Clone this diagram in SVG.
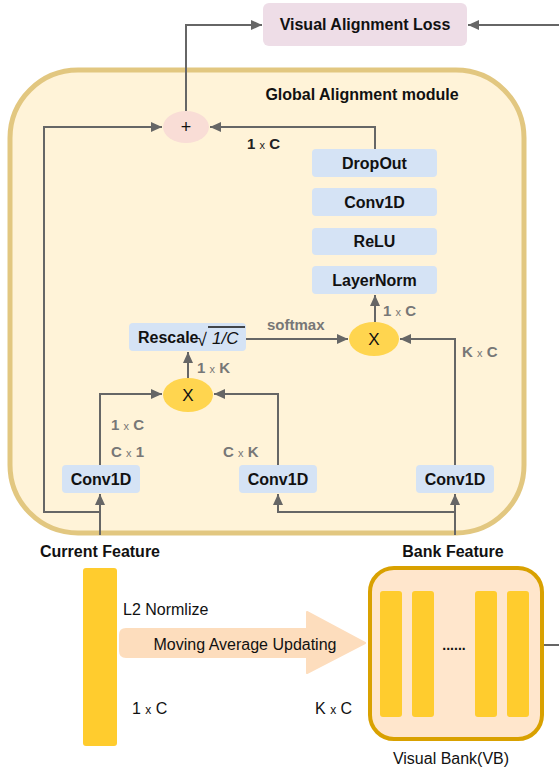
<svg xmlns="http://www.w3.org/2000/svg" width="559" height="769" viewBox="0 0 559 769">
<style>
text{font-family:"Liberation Sans",Arial,sans-serif;}
.b{font-weight:bold;font-size:16px;fill:#111;}
.blk{fill:#D5E3F5;}
.lab{font-weight:bold;font-size:15px;fill:#777;}
.labd{font-weight:bold;font-size:15px;fill:#222;}
.sx{font-weight:normal;font-size:11px;}
.ln{fill:none;stroke:#666;stroke-width:2;}
.reg{font-size:16px;fill:#111;}
.bar{fill:#FFCC2E;}
</style>
<defs>
<marker id="ah" markerUnits="userSpaceOnUse" markerWidth="11" markerHeight="10" refX="11" refY="5" orient="auto">
<path d="M0,0 L11,5 L0,10 z" fill="#666"/>
</marker>
</defs>

<g id="container">
<rect x="10" y="70" width="514" height="463" rx="68" fill="#FFF3D8" stroke="#E2C780" stroke-width="5"/>
<text class="b" x="362" y="100" text-anchor="middle" font-size="15">Global Alignment module</text>
</g>

<g id="loss">
<rect x="263" y="3" width="204" height="43" rx="6" fill="#EEDDE7"/>
<text class="b" x="365" y="30" text-anchor="middle">Visual Alignment Loss</text>
</g>

<g id="plus">
<ellipse cx="186" cy="127" rx="23" ry="16" fill="#F9DDD6"/>
<text x="186" y="133" text-anchor="middle" font-size="18" fill="#111">+</text>
</g>

<g id="dropout"><rect class="blk" x="312" y="149" width="125" height="28" rx="4"/><text class="b" x="374.5" y="169" text-anchor="middle">DropOut</text></g>
<g id="conv1d_top"><rect class="blk" x="312" y="188" width="125" height="28" rx="4"/><text class="b" x="374.5" y="208" text-anchor="middle">Conv1D</text></g>
<g id="relu"><rect class="blk" x="312" y="228" width="125" height="27" rx="4"/><text class="b" x="374.5" y="247" text-anchor="middle">ReLU</text></g>
<g id="layernorm"><rect class="blk" x="312" y="266" width="125" height="28" rx="4"/><text class="b" x="374.5" y="286" text-anchor="middle">LayerNorm</text></g>

<g id="rescale">
<rect class="blk" x="129" y="323" width="117" height="28" rx="4"/>
<text class="b" x="138" y="343">Rescale</text>
<text x="197" y="346" font-family="'DejaVu Serif',serif" font-size="18" fill="#111">√</text>
<line x1="208" y1="327" x2="245" y2="327" stroke="#111" stroke-width="1.3"/>
<text x="212" y="344" font-family="'Liberation Serif',serif" font-size="17" font-style="italic" fill="#111">1/C</text>
</g>

<g id="mul2">
<ellipse cx="374" cy="339" rx="25" ry="17" fill="#FFD54F"/>
<text x="374" y="345" text-anchor="middle" font-size="17" fill="#111">X</text>
</g>
<g id="mul1">
<ellipse cx="188" cy="395" rx="25" ry="17" fill="#FFD54F"/>
<text x="188" y="401" text-anchor="middle" font-size="17" fill="#111">X</text>
</g>

<g id="conv1d_left"><rect class="blk" x="62" y="465" width="78" height="28" rx="4"/><text class="b" x="101" y="485" text-anchor="middle">Conv1D</text></g>
<g id="conv1d_mid"><rect class="blk" x="239" y="465" width="78" height="28" rx="4"/><text class="b" x="278" y="485" text-anchor="middle">Conv1D</text></g>
<g id="conv1d_right"><rect class="blk" x="416" y="465" width="78" height="28" rx="4"/><text class="b" x="455" y="485" text-anchor="middle">Conv1D</text></g>

<g id="labels">
<text class="labd" x="247" y="149">1 <tspan class="sx">x</tspan> C</text>
<text class="lab" x="383" y="316">1 <tspan class="sx">x</tspan> C</text>
<text class="lab" x="462" y="357">K <tspan class="sx">x</tspan> C</text>
<text class="lab" x="267" y="330">softmax</text>
<text class="lab" x="197" y="373">1 <tspan class="sx">x</tspan> K</text>
<text class="lab" x="111" y="430">1 <tspan class="sx">x</tspan> C</text>
<text class="lab" x="111" y="457">C <tspan class="sx">x</tspan> 1</text>
<text class="lab" x="223" y="457">C <tspan class="sx">x</tspan> K</text>
<text class="b" x="100" y="557" text-anchor="middle" font-size="15">Current Feature</text>
<text class="b" x="453" y="557" text-anchor="middle" font-size="15">Bank Feature</text>
</g>

<g id="connectors">
<path class="ln" d="M186,111 V25 H262" marker-end="url(#ah)"/>
<path class="ln" d="M559,25 H468" marker-end="url(#ah)"/>
<path class="ln" d="M100,512 H44 V127 H162" marker-end="url(#ah)"/>
<path class="ln" d="M375,149 V127 H210" marker-end="url(#ah)"/>
<path class="ln" d="M375,322 V295" marker-end="url(#ah)"/>
<path class="ln" d="M455,465 V339 H400" marker-end="url(#ah)"/>
<path class="ln" d="M246,339 H348" marker-end="url(#ah)"/>
<path class="ln" d="M188,378 V352" marker-end="url(#ah)"/>
<path class="ln" d="M100,465 V394 H162" marker-end="url(#ah)"/>
<path class="ln" d="M278,465 V394 H214" marker-end="url(#ah)"/>
<path class="ln" d="M100,535 V494" marker-end="url(#ah)"/>
<path class="ln" d="M455,535 V494" marker-end="url(#ah)"/>
<path class="ln" d="M455,512 H278 V494" marker-end="url(#ah)"/>
<path class="ln" d="M542,645 H559"/>
</g>

<g id="current_vector">
<rect class="bar" x="83" y="568" width="34" height="178" rx="3"/>
<text class="reg" x="123" y="615" font-size="15">L2 Normlize</text>
<text class="reg" x="132" y="714">1 <tspan font-size="12">x</tspan> C</text>
</g>

<g id="moving_average">
<path d="M126,629 H307 V612 L365,643 L307,673 V657 H126 Q120,657 120,651 V635 Q120,629 126,629 z" fill="#FDDDBD" stroke="#FDDDBD" stroke-width="2" stroke-linejoin="round"/>
<text class="reg" x="245" y="650" text-anchor="middle">Moving Average Updating</text>
<text class="reg" x="315" y="714">K <tspan font-size="12">x</tspan> C</text>
</g>

<g id="visual_bank">
<rect x="370" y="568" width="172" height="171" rx="24" fill="#FFE6CC" stroke="#D9A100" stroke-width="4"/>
<rect class="bar" x="380" y="591" width="22" height="126" rx="3"/>
<rect class="bar" x="412" y="591" width="22" height="126" rx="3"/>
<rect class="bar" x="475" y="591" width="22" height="126" rx="3"/>
<rect class="bar" x="507" y="591" width="22" height="126" rx="3"/>
<text x="454" y="650" text-anchor="middle" font-size="14" font-weight="bold" fill="#111">......</text>
<text class="reg" x="451" y="764" text-anchor="middle">Visual Bank(VB)</text>
</g>
</svg>
